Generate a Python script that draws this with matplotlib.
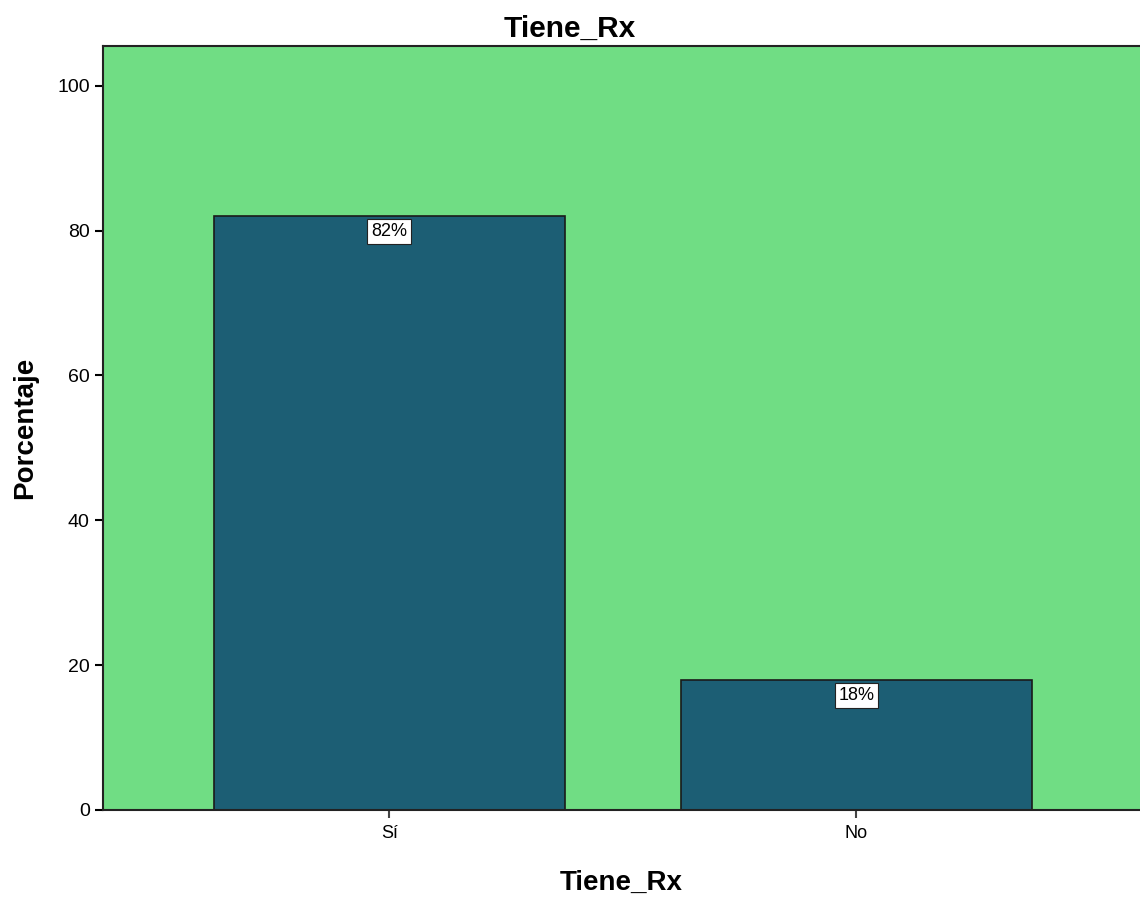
import matplotlib
matplotlib.use('Agg')
import matplotlib.pyplot as plt

plt.rcParams['font.family'] = ['Liberation Sans', 'DejaVu Sans']

# data
categorias = ['Sí', 'No']
porcentajes = [82, 18]
etiquetas = ['82%', '18%']

fig = plt.figure(figsize=(11.4, 9), dpi=100)
ax = fig.add_axes([0.0904, 0.1, 0.9096, 0.8489])
ax.set_facecolor('#70dd84')

x = list(range(len(categorias)))
ax.bar(x, porcentajes, width=0.75, color='#1c5e74', edgecolor='#1a1a1a', linewidth=1.2, zorder=2)

for xi, v, lab in zip(x, porcentajes, etiquetas):
    ax.annotate(lab, (xi, v), xytext=(0, -5), textcoords='offset points',
                ha='center', va='top', fontsize=13, zorder=3,
                bbox=dict(boxstyle='square,pad=0.22', fc='white', ec='#222222', lw=0.8))

ax.set_xlim(-0.613, 1.607)
ax.set_ylim(0, 105.5)
ax.set_xticks(x)
ax.set_xticklabels(categorias, fontsize=13)
ax.set_yticks([0, 20, 40, 60, 80, 100])
ax.tick_params(axis='y', labelsize=14, length=6, width=1.5)
ax.tick_params(axis='x', length=6, width=1.5, color='#444444', pad=5)
ax.spines['right'].set_visible(False)
for s in ['left', 'bottom', 'top']:
    ax.spines[s].set_linewidth(1.5)
    ax.spines[s].set_color('#222222')

# titulo centrado en la figura, no en los ejes
fig.text(0.5, 1 - 37 / 900, 'Tiene_Rx', fontsize=21.5, fontweight='bold',
         ha='center', va='baseline')
ax.set_xlabel('Tiene_Rx', fontsize=20, fontweight='bold', labelpad=20)
ax.set_ylabel('Porcentaje', fontsize=20, fontweight='bold', labelpad=14)

fig.savefig('out.png', dpi=100)
